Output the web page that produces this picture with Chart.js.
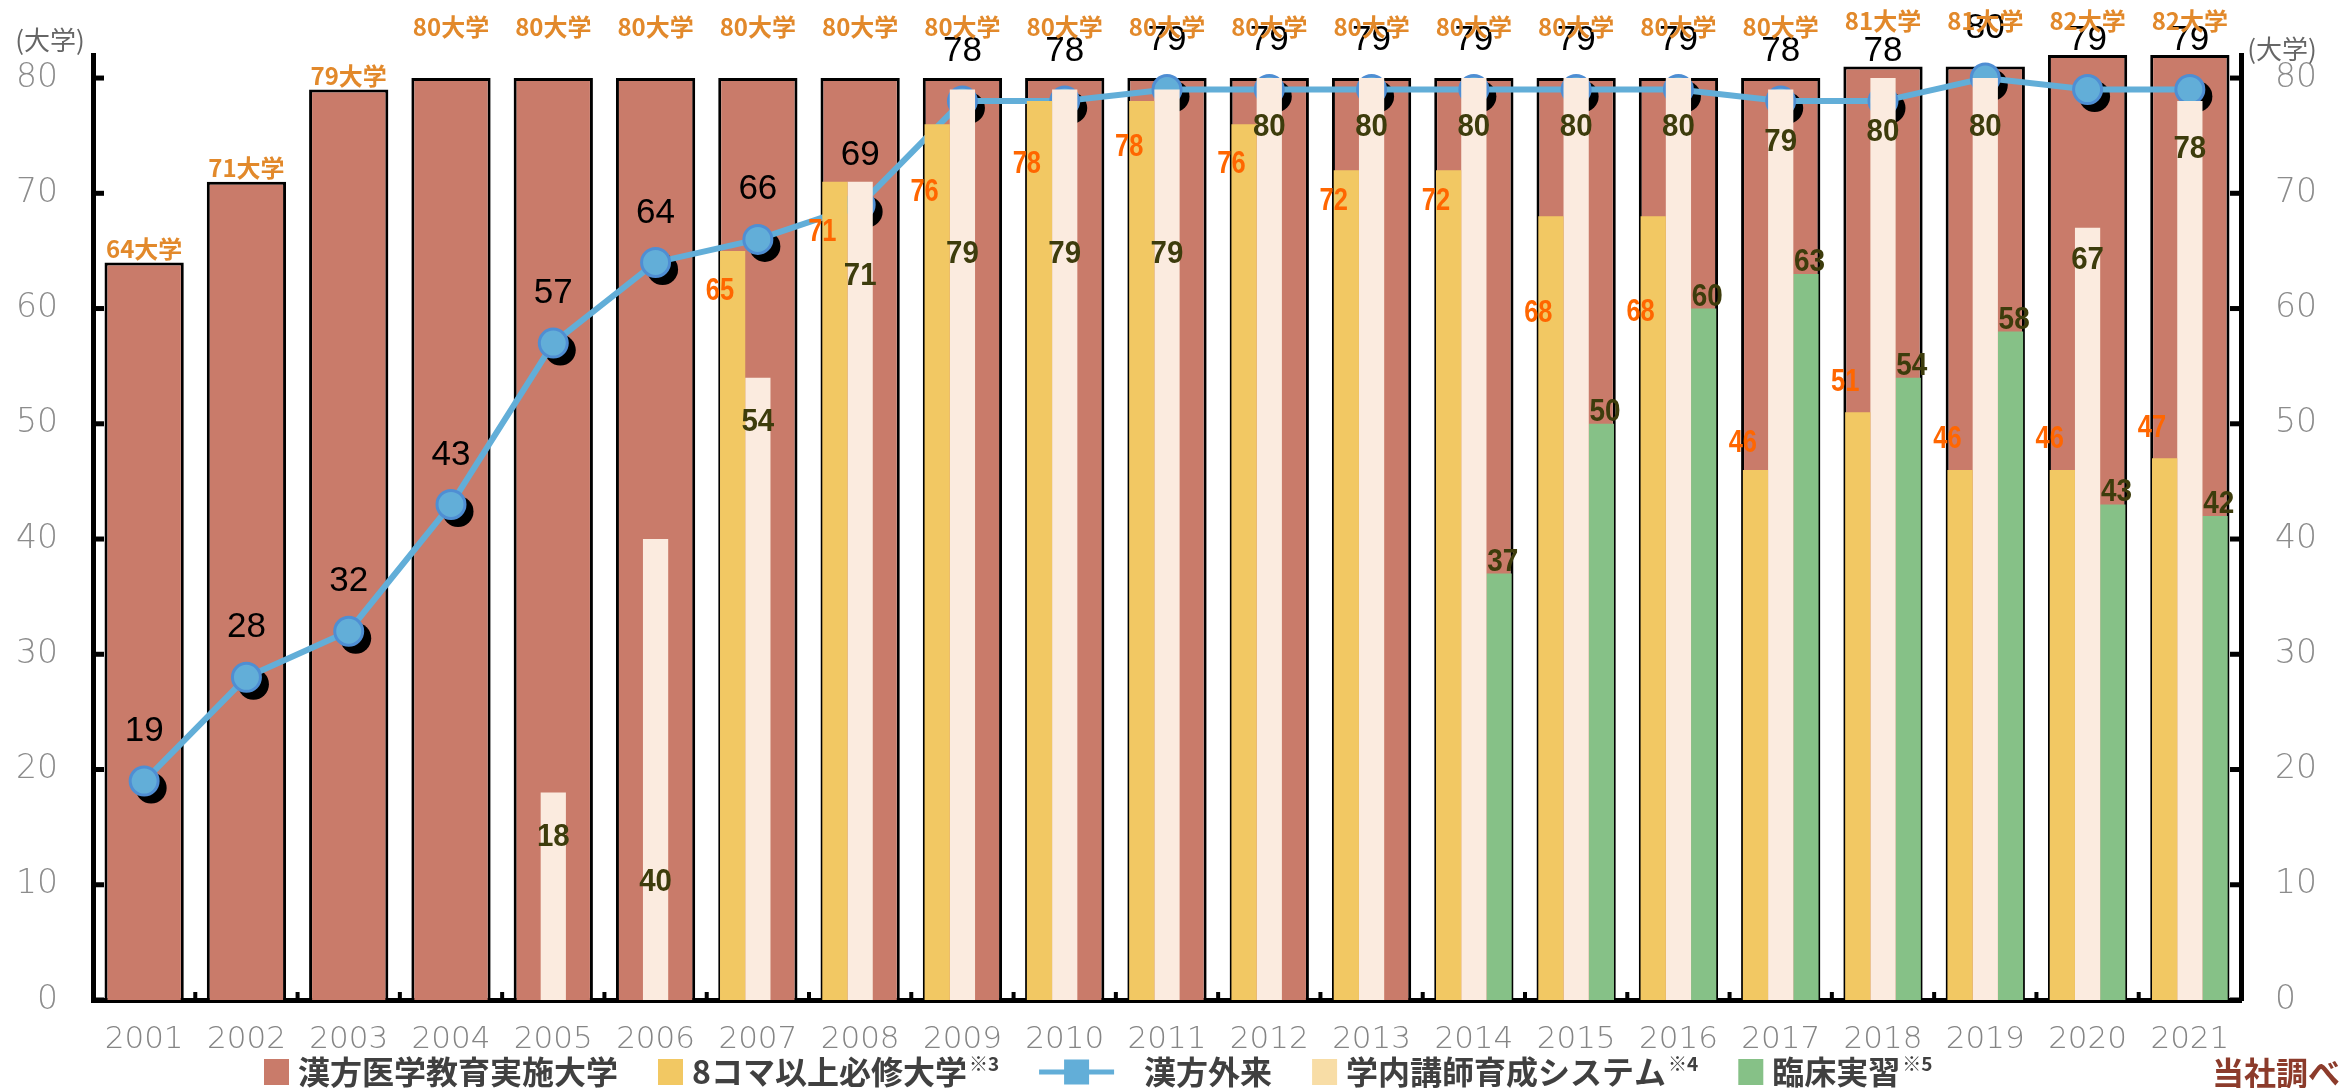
<!DOCTYPE html>
<html>
<head>
<meta charset="utf-8">
<script src="https://cdn.jsdelivr.net/npm/chart.js@4.4.1/dist/chart.umd.min.js"></script>
<style>
html, body { margin: 0; padding: 0; background: #fff; }
#wrap { width: 2344px; height: 1088px; position: relative; }
</style>
</head>
<body>
<div id="wrap"><canvas id="chart"></canvas></div>
<script>
var years = ['2001', '2002', '2003', '2004', '2005', '2006', '2007', '2008', '2009', '2010', '2011',
  '2012', '2013', '2014', '2015', '2016', '2017', '2018', '2019', '2020', '2021'];

// 漢方医学教育実施大学
var kampoSchools = [64, 71, 79, 80, 80, 80, 80, 80, 80, 80, 80, 80, 80, 80, 80, 80, 80, 81, 81, 82, 82];
// 8コマ以上必修大学
var eightKoma = [null, null, null, null, null, null, 65, 71, 76, 78, 78, 76, 72, 72, 68, 68, 46, 51, 46, 46, 47];
// 漢方外来
var kampoOutpatient = [19, 28, 32, 43, 57, 64, 66, 69, 78, 78, 79, 79, 79, 79, 79, 79, 78, 78, 80, 79, 79];
// 学内講師育成システム
var lecturerSystem = [null, null, null, null, 18, 40, 54, 71, 79, 79, 79, 80, 80, 80, 80, 80, 79, 80, 80, 67, 78];
// 臨床実習
var clinical = [null, null, null, null, null, null, null, null, null, null, null, null, null, 37, 50, 60, 63, 54, 58, 43, 42];

var yTicks = [0, 10, 20, 30, 40, 50, 60, 70, 80];

// where the value labels sit, relative to the value (in axis units)
var eightKomaLabelShift = [0, 0, 0, 0, 0, 0, -3.5, -4.4, -5.9, -5.5, -4, -3.5, -2.7, -2.7, -8.4, -8.3, 2.3, 2.6, 2.6, 2.6, 2.6];
var lecturerLabelShift = [0, 0, 0, 0, -3.9, -29.8, -3.9, -8.2, -14.3, -14.3, -14.3, -4.3, -4.3, -4.3, -4.3, -4.3, -4.6, -4.7, -4.3, -2.8, -4.2];

var NUM_FONT = "'Liberation Sans', Arial, sans-serif";
var JP_FONT = "'Noto Sans CJK JP', 'Noto Sans', sans-serif";
var TICK_FONT = "'DejaVu Sans Light', 'DejaVu Sans ExtraLight', 'DejaVu Sans', sans-serif";

var BROWN = '#C97B6A', YELLOW = '#F2C863', CREAM = '#FBEBDF', GREEN = '#86C187', BLUE = '#62AED8';

function drawText(ctx, text, x, y, font, color, align, squeeze) {
  ctx.save();
  ctx.font = font;
  ctx.fillStyle = color;
  ctx.textAlign = align || 'center';
  ctx.textBaseline = 'middle';
  ctx.translate(x, y);
  ctx.scale(squeeze || 1, 1);
  ctx.fillText(text, 0, 0);
  ctx.restore();
}

var decorations = {
  id: 'decorations',

  beforeDatasetDraw: function(chart, args) {
    if (args.index !== 2) return;
    var ctx = chart.ctx;
    ctx.save();
    ctx.fillStyle = '#000';
    chart.getDatasetMeta(2).data.forEach(function(pt) {
      ctx.beginPath();
      ctx.arc(pt.x + 7, pt.y + 7, 15.5, 0, Math.PI * 2);
      ctx.fill();
    });
    ctx.restore();
  },

  afterDraw: function(chart) {
    var ctx = chart.ctx, y = chart.scales.y, x = chart.scales.x, area = chart.chartArea;
    var i;

    // inward tick marks
    ctx.save();
    ctx.fillStyle = '#000';
    yTicks.forEach(function(t) {
      var py = y.getPixelForValue(t);
      ctx.fillRect(area.left, py - 2.5, 11, 5);
      ctx.fillRect(area.right - 11, py - 2.5, 11, 5);
    });
    for (i = 1; i < years.length; i++) {
      var px = (x.getPixelForValue(i - 1) + x.getPixelForValue(i)) / 2;
      ctx.fillRect(px - 2, area.bottom - 8, 4, 8);
    }
    ctx.restore();

    // 漢方外来 labels
    chart.getDatasetMeta(2).data.forEach(function(pt, i) {
      var v = kampoOutpatient[i];
      drawText(ctx, String(v), pt.x, y.getPixelForValue(v + 4.3), '35px ' + NUM_FONT, '#000');
    });

    // 8コマ labels
    chart.getDatasetMeta(1).data.forEach(function(bar, i) {
      var v = eightKoma[i];
      if (v == null) return;
      drawText(ctx, String(v), bar.x - bar.width / 2, y.getPixelForValue(v + eightKomaLabelShift[i]),
        'bold 31px ' + NUM_FONT, '#FF6600', 'center', 0.82);
    });

    // 学内講師 labels
    chart.getDatasetMeta(3).data.forEach(function(bar, i) {
      var v = lecturerSystem[i];
      if (v == null) return;
      drawText(ctx, String(v), bar.x, y.getPixelForValue(v + lecturerLabelShift[i]),
        'bold 31px ' + NUM_FONT, '#3D3C0C', 'center', 0.95);
    });

    // 臨床実習 labels
    chart.getDatasetMeta(4).data.forEach(function(bar, i) {
      var v = clinical[i];
      if (v == null) return;
      drawText(ctx, String(v), bar.x + bar.width / 2 - 9, y.getPixelForValue(v + 1),
        'bold 31px ' + NUM_FONT, '#3D3C0C', 'center', 0.9);
    });

    // 実施大学 labels
    chart.getDatasetMeta(0).data.forEach(function(bar, i) {
      var v = kampoSchools[i];
      var at = v < 80 ? v + 1.2 : (v > 80 ? 85 : 84.4);
      drawText(ctx, v + '大学', bar.x, y.getPixelForValue(at), 'bold 24px ' + JP_FONT, '#E2892B');
    });

    // axis units
    drawText(ctx, '(大学)', 50, 40, '26px ' + JP_FONT, '#666', 'center');
    drawText(ctx, '(大学)', 2282, 49, '26px ' + JP_FONT, '#666', 'center');

    // legend
    var ly = 1072, lx = 264;
    var bigFont = 'bold 32px ' + JP_FONT, supFont = 'bold 19px ' + JP_FONT;
    chart.data.datasets.forEach(function(ds) {
      if (ds.type === 'line') {
        ctx.save();
        ctx.fillStyle = BLUE;
        ctx.fillRect(lx, ly - 2.5, 75, 5);
        ctx.fillRect(lx + 25, ly - 12.5, 25, 25);
        ctx.restore();
        lx += 105;
      } else {
        ctx.save();
        ctx.fillStyle = ds.legendColor || ds.backgroundColor;
        ctx.fillRect(lx, ly - 13, 25, 26);
        ctx.restore();
        lx += 34;
      }
      var parts = ds.label.split('※');
      ctx.font = bigFont;
      drawText(ctx, parts[0], lx, ly, bigFont, '#404040', 'left');
      lx += ctx.measureText(parts[0]).width;
      if (parts.length > 1) {
        ctx.font = supFont;
        drawText(ctx, '※' + parts[1], lx + 2, ly - 8, supFont, '#404040', 'left');
        lx += ctx.measureText('※' + parts[1]).width + 2;
      }
      lx += 40;
    });

    drawText(ctx, '当社調べ', 2340, 1073, bigFont, '#8C3B2B', 'right');
  }
};

var tickFont = { family: TICK_FONT, size: 33, weight: 200 };

new Chart(document.getElementById('chart'), {
  data: {
    labels: years,
    datasets: [
      {
        type: 'bar',
        label: '漢方医学教育実施大学',
        data: kampoSchools,
        order: 3,
        grouped: false,
        backgroundColor: BROWN,
        borderColor: '#000',
        borderWidth: 3,
        barPercentage: 0.775,
        categoryPercentage: 1
      },
      {
        type: 'bar',
        label: '8コマ以上必修大学※3',
        data: eightKoma,
        order: 1,
        backgroundColor: YELLOW,
        barPercentage: 1,
        categoryPercentage: 0.74
      },
      {
        type: 'line',
        label: '漢方外来',
        data: kampoOutpatient,
        order: 2,
        borderColor: BLUE,
        borderWidth: 6,
        tension: 0,
        pointRadius: 14,
        pointBackgroundColor: BLUE,
        pointBorderColor: '#4F8ED3',
        pointBorderWidth: 3
      },
      {
        type: 'bar',
        label: '学内講師育成システム※4',
        data: lecturerSystem,
        order: 1,
        backgroundColor: CREAM,
        legendColor: '#F8DDA6',
        barPercentage: 1,
        categoryPercentage: 0.74
      },
      {
        type: 'bar',
        label: '臨床実習※5',
        data: clinical,
        order: 1,
        backgroundColor: GREEN,
        barPercentage: 1,
        categoryPercentage: 0.74
      }
    ]
  },
  options: {
    responsive: true,
    maintainAspectRatio: false,
    animation: false,
    events: [],
    layout: { padding: { top: 55, left: 0, right: 0, bottom: 0 } },
    plugins: {
      legend: { display: false },
      tooltip: { enabled: false }
    },
    scales: {
      x: {
        type: 'category',
        position: 'bottom',
        offset: true,
        z: 1,
        grid: { display: false },
        border: { display: true, color: '#000', width: 5 },
        ticks: { color: '#858585', font: { family: TICK_FONT, size: 31, weight: 200 }, padding: 13, maxRotation: 0, autoSkip: false },
        afterFit: function(s) { s.height = 88; }
      },
      y: {
        type: 'linear',
        position: 'left',
        min: 0,
        max: 82,
        z: 1,
        grid: { display: false },
        border: { display: true, color: '#000', width: 5 },
        ticks: { stepSize: 10, includeBounds: false, color: '#8C8C8C', font: tickFont, padding: 27 },
        afterFit: function(s) { s.width = 93; }
      },
      y2: {
        type: 'linear',
        position: 'right',
        min: 0,
        max: 82,
        z: 1,
        grid: { display: false },
        border: { display: true, color: '#000', width: 5 },
        ticks: { stepSize: 10, includeBounds: false, color: '#8C8C8C', font: tickFont, padding: 26 },
        afterFit: function(s) { s.width = 103; }
      }
    }
  },
  plugins: [decorations]
});
</script>
</body>
</html>
